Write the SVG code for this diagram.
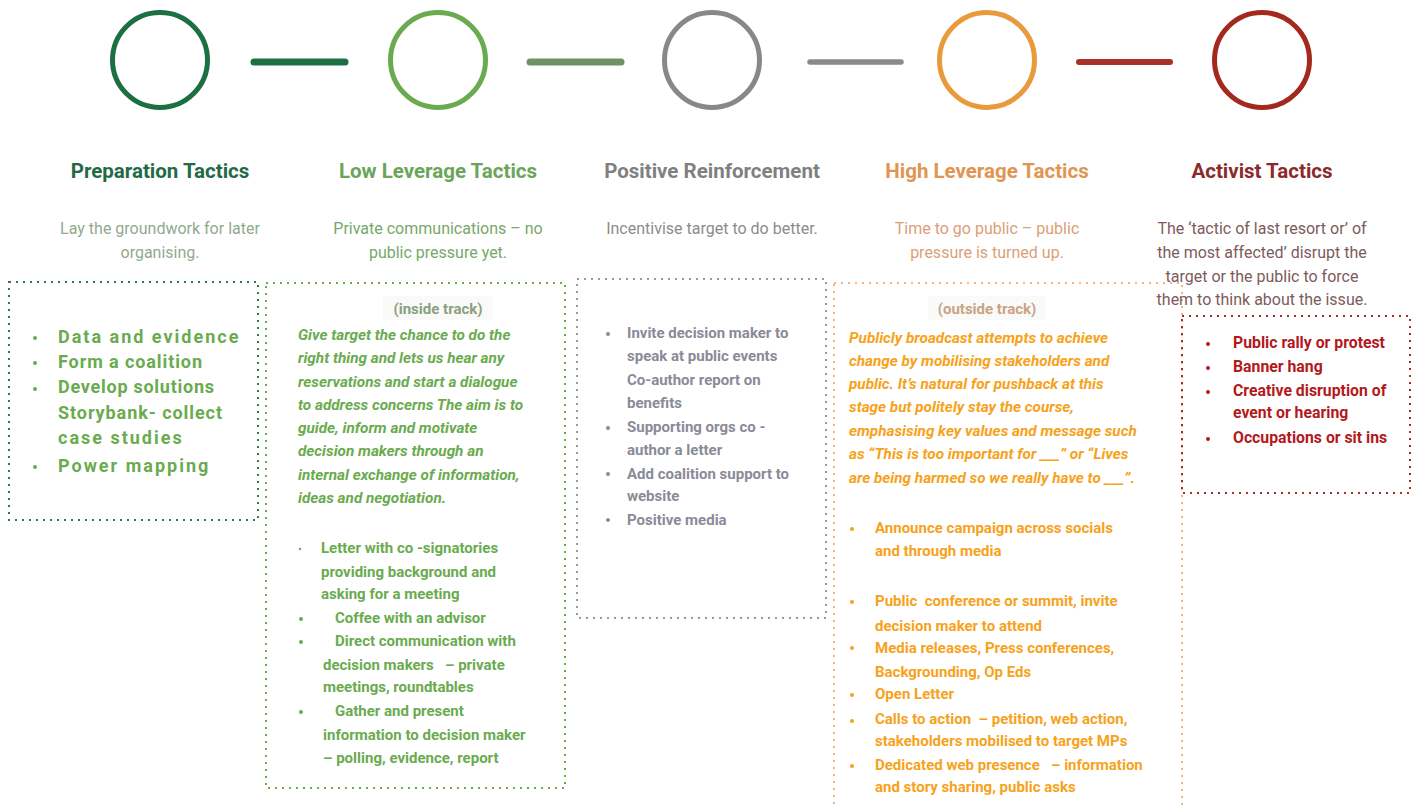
<svg xmlns="http://www.w3.org/2000/svg" width="1418" height="808" viewBox="0 0 1418 808">
  <defs>
    <style>
      text { font-family: Roboto, "Liberation Sans", sans-serif; }
      .ring { fill: none; stroke-width: 5; }
      .link { fill: none; stroke-linecap: round; }
      .title { font-size: 20.5px; font-weight: 700; text-anchor: middle; }
      .sub { font-size: 16px; font-weight: 400; text-anchor: middle; }
      .box { fill: none; stroke-width: 2; stroke-dasharray: 2 5; }
      .item { font-size: 15px; font-weight: 700; }
      .item-lg { font-size: 15.8px; font-weight: 700; }
      .lead { font-size: 15.3px; font-weight: 700; font-style: italic; }
      .track { font-size: 15px; font-weight: 700; text-anchor: middle; }
      .big { font-size: 18px; font-weight: 700; letter-spacing: 2px; }
      .plate { fill: #fafaf9; }
    </style>
  </defs>

  <rect width="1418" height="808" fill="#ffffff"/>

  <!-- connectors between the stage rings -->
  <g id="connectors">
    <line class="link" x1="254" y1="62" x2="345" y2="62" stroke="#1a7043" stroke-width="7"/>
    <line class="link" x1="530" y1="62" x2="621" y2="62" stroke="#6f9263" stroke-width="7"/>
    <line class="link" x1="810" y1="62" x2="901" y2="62" stroke="#8a8a8a" stroke-width="5.5"/>
    <line class="link" x1="1079" y1="62" x2="1170" y2="62" stroke="#a8322a" stroke-width="6"/>
  </g>

  <!-- Preparation Tactics -->
  <g id="preparation">
    <circle class="ring" cx="160" cy="60" r="47.5" stroke="#1b6f43"/>
    <text class="title" x="160" y="178" fill="#1f6b45">Preparation Tactics</text>
    <text class="sub" x="160" y="234" fill="#8faa8f">Lay the groundwork for later</text>
    <text class="sub" x="160" y="258" fill="#8faa8f">organising.</text>
    <rect class="box" x="9" y="282" width="249" height="238" stroke="#2f7a45"/>
    <g fill="#6aab4f">
      <circle cx="35" cy="338" r="2"/>
      <circle cx="35" cy="363" r="2"/>
      <circle cx="35" cy="389" r="2"/>
      <circle cx="35" cy="467" r="2"/>
      <text class="big" x="58" y="343">Data and evidence</text>
      <text class="big" x="58" y="368" textLength="146" lengthAdjust="spacing">Form a coalition</text>
      <text class="big" x="58" y="393" textLength="158" lengthAdjust="spacing">Develop solutions</text>
      <text class="big" x="58" y="419" textLength="166" lengthAdjust="spacing">Storybank- collect</text>
      <text class="big" x="58" y="444">case studies</text>
      <text class="big" x="58" y="472">Power mapping</text>
    </g>
  </g>

  <!-- Low Leverage Tactics -->
  <g id="low-leverage">
    <circle class="ring" cx="438" cy="60" r="47.5" stroke="#6aab4f"/>
    <text class="title" x="438" y="178" fill="#6aa55a">Low Leverage Tactics</text>
    <text class="sub" x="438" y="234" fill="#77a86a">Private communications – no</text>
    <text class="sub" x="438" y="258" fill="#77a86a">public pressure yet.</text>
    <rect class="box" x="266" y="283" width="299" height="505" stroke="#6aab4f"/>
    <rect class="plate" x="383" y="296" width="110" height="24"/>
    <text class="track" x="438" y="314" fill="#8aa080">(inside track)</text>
    <g fill="#6aab4f">
      <text class="lead" x="298" y="340">Give target the chance to do the</text>
      <text class="lead" x="298" y="363">right thing and lets us hear any</text>
      <text class="lead" x="298" y="387">reservations and start a dialogue</text>
      <text class="lead" x="298" y="410">to address concerns The aim is to</text>
      <text class="lead" x="298" y="433">guide, inform and motivate</text>
      <text class="lead" x="298" y="456">decision makers through an</text>
      <text class="lead" x="298" y="480">internal exchange of information,</text>
      <text class="lead" x="298" y="503">ideas and negotiation.</text>
      <circle cx="300" cy="549" r="1.2"/>
      <circle cx="301" cy="619" r="2"/>
      <circle cx="301" cy="642" r="2"/>
      <circle cx="301" cy="712" r="2"/>
      <text class="item" x="321" y="553">Letter with co -signatories</text>
      <text class="item" x="321" y="577">providing background and</text>
      <text class="item" x="321" y="599">asking for a meeting</text>
      <text class="item" x="335" y="623">Coffee with an advisor</text>
      <text class="item" x="335" y="646">Direct communication with</text>
      <text class="item" x="323" y="670" xml:space="preserve">decision makers   – private</text>
      <text class="item" x="323" y="692">meetings, roundtables</text>
      <text class="item" x="335" y="716">Gather and present</text>
      <text class="item" x="323" y="740">information to decision maker</text>
      <text class="item" x="323" y="763">– polling, evidence, report</text>
    </g>
  </g>

  <!-- Positive Reinforcement -->
  <g id="positive-reinforcement">
    <circle class="ring" cx="712" cy="60" r="47.5" stroke="#888888"/>
    <text class="title" x="712" y="178" fill="#808080">Positive Reinforcement</text>
    <text class="sub" x="712" y="234" fill="#8c8c8c">Incentivise target to do better.</text>
    <rect class="box" x="577" y="279" width="249" height="339" stroke="#9a9a9a"/>
    <g fill="#8a8a98">
      <circle cx="608" cy="334" r="2"/>
      <circle cx="608" cy="428" r="2"/>
      <circle cx="608" cy="474" r="2"/>
      <circle cx="608" cy="520" r="2"/>
      <text class="item" x="627" y="338">Invite decision maker to</text>
      <text class="item" x="627" y="361">speak at public events</text>
      <text class="item" x="627" y="385">Co-author report on</text>
      <text class="item" x="627" y="408">benefits</text>
      <text class="item" x="627" y="432">Supporting orgs co -</text>
      <text class="item" x="627" y="455">author a letter</text>
      <text class="item" x="627" y="479">Add coalition support to</text>
      <text class="item" x="627" y="501">website</text>
      <text class="item" x="627" y="525">Positive media</text>
    </g>
  </g>

  <!-- High Leverage Tactics -->
  <g id="high-leverage">
    <circle class="ring" cx="987" cy="60" r="47.5" stroke="#e89a3c"/>
    <text class="title" x="987" y="178" fill="#e09550">High Leverage Tactics</text>
    <text class="sub" x="987" y="234" fill="#dba077">Time to go public – public</text>
    <text class="sub" x="987" y="258" fill="#dba077">pressure is turned up.</text>
    <rect class="box" x="834" y="283" width="348" height="560" stroke="#f4b57a"/>
    <rect class="plate" x="928" y="296" width="118" height="24"/>
    <text class="track" x="987" y="314" fill="#c9a384">(outside track)</text>
    <g fill="#f7a21b">
      <text class="lead" x="849" y="343">Publicly broadcast attempts to achieve</text>
      <text class="lead" x="849" y="366">change by mobilising stakeholders and</text>
      <text class="lead" x="849" y="389">public. It’s natural for pushback at this</text>
      <text class="lead" x="849" y="412">stage but politely stay the course,</text>
      <text class="lead" x="849" y="436">emphasising key values and message such</text>
      <text class="lead" x="849" y="459">as “This is too important for ___” or “Lives</text>
      <text class="lead" x="849" y="483">are being harmed so we really have to ___”.</text>
      <circle cx="852" cy="529" r="2"/>
      <circle cx="852" cy="602" r="2"/>
      <circle cx="852" cy="648" r="2"/>
      <circle cx="852" cy="695" r="2"/>
      <circle cx="852" cy="721" r="2"/>
      <circle cx="852" cy="766" r="2"/>
      <text class="item" x="875" y="533">Announce campaign across socials</text>
      <text class="item" x="875" y="556">and through media</text>
      <text class="item" x="875" y="606" xml:space="preserve">Public  conference or summit, invite</text>
      <text class="item" x="875" y="631">decision maker to attend</text>
      <text class="item" x="875" y="653">Media releases, Press conferences,</text>
      <text class="item" x="875" y="677">Backgrounding, Op Eds</text>
      <text class="item" x="875" y="699">Open Letter</text>
      <text class="item" x="875" y="724" xml:space="preserve">Calls to action  – petition, web action,</text>
      <text class="item" x="875" y="746">stakeholders mobilised to target MPs</text>
      <text class="item" x="875" y="770" xml:space="preserve">Dedicated web presence   – information</text>
      <text class="item" x="875" y="792">and story sharing, public asks</text>
    </g>
  </g>

  <!-- Activist Tactics -->
  <g id="activist">
    <circle class="ring" cx="1262" cy="60" r="47.5" stroke="#a3291f"/>
    <text class="title" x="1262" y="178" fill="#8b2a2a">Activist Tactics</text>
    <text class="sub" x="1262" y="234" fill="#7d5b5b">The ‘tactic of last resort or’ of</text>
    <text class="sub" x="1262" y="258" fill="#7d5b5b">the most affected’ disrupt the</text>
    <text class="sub" x="1262" y="282" fill="#7d5b5b">target or the public to force</text>
    <text class="sub" x="1262" y="305" fill="#7d5b5b">them to think about the issue.</text>
    <rect class="box" x="1182" y="316" width="228" height="177" stroke="#a52a2a"/>
    <g fill="#b3191c">
      <circle cx="1208" cy="344" r="2"/>
      <circle cx="1208" cy="368" r="2"/>
      <circle cx="1208" cy="392" r="2"/>
      <circle cx="1208" cy="439" r="2"/>
      <text class="item-lg" x="1233" y="348">Public rally or protest</text>
      <text class="item-lg" x="1233" y="372">Banner hang</text>
      <text class="item-lg" x="1233" y="396">Creative disruption of</text>
      <text class="item-lg" x="1233" y="418">event or hearing</text>
      <text class="item-lg" x="1233" y="443">Occupations or sit ins</text>
    </g>
  </g>
</svg>
